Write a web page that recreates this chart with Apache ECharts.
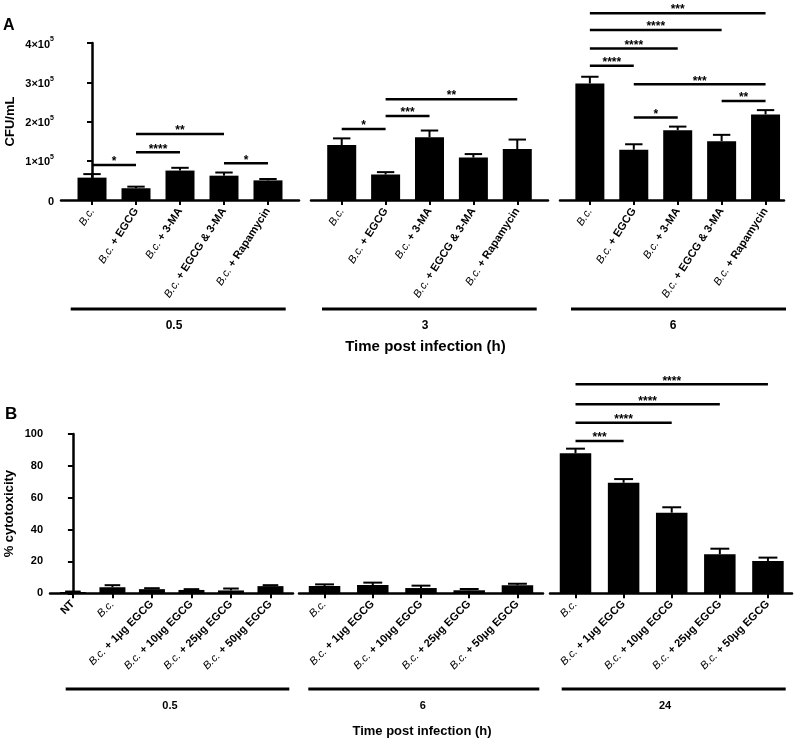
<!DOCTYPE html>
<html><head><meta charset="utf-8">
<script src="https://cdn.jsdelivr.net/npm/echarts@6/dist/echarts.min.js"></script>
<style>html,body{margin:0;padding:0;background:#fff}#c{width:800px;height:741px}</style>
</head><body><div id="c"></div>
<script>
// ---------- DATA ----------
const catsA = ['B.c.', 'B.c. + EGCG', 'B.c. + 3-MA', 'B.c. + EGCG & 3-MA', 'B.c. + Rapamycin'];
const timesA = ['0.5', '3', '6'];
const cfu05 = [57000, 30000, 75000, 62000, 50000];
const cfu05Err = [9000, 4000, 7000, 8000, 3500];
const cfu3 = [140000, 65000, 160000, 108000, 130000];
const cfu3Err = [17000, 6000, 17000, 9000, 24000];
const cfu6 = [297000, 128000, 178000, 150000, 218000];
const cfu6Err = [17000, 14000, 9000, 16000, 11000];
const yTicksA = [0, 100000, 200000, 300000, 400000];
// significance: [fromIndex, toIndex, bracketValue, stars]
const sigA05 = [[0, 1, 89000, '*'], [1, 2, 121500, '****'], [1, 3, 168000, '**'], [3, 4, 93500, '*']];
const sigA3 = [[0, 1, 181000, '*'], [1, 2, 214000, '***'], [1, 4, 257000, '**']];
const sigA6 = [[0, 4, 476000, '***'], [0, 3, 433000, '****'], [0, 2, 386000, '****'], [0, 1, 342000, '****'],
               [1, 4, 295000, '***'], [3, 4, 252000, '**'], [1, 2, 210000, '*']];

const catsB05 = ['NT', 'B.c.', 'B.c. + 1μg EGCG', 'B.c. + 10μg EGCG', 'B.c. + 25μg EGCG', 'B.c. + 50μg EGCG'];
const catsB = ['B.c.', 'B.c. + 1μg EGCG', 'B.c. + 10μg EGCG', 'B.c. + 25μg EGCG', 'B.c. + 50μg EGCG'];
const timesB = ['0.5', '6', '24'];
const cyto05 = [0.8, 3.8, 2.6, 2.1, 1.8, 4.5];
const cyto05Err = [0.3, 1.3, 0.6, 0.5, 1.2, 0.6];
const cyto6 = [4.6, 5.2, 3.3, 1.9, 5.0];
const cyto6Err = [1.0, 1.5, 1.5, 0.8, 1.0];
const cyto24 = [87.9, 69.4, 50.6, 24.5, 20.3];
const cyto24Err = [2.9, 2.3, 3.4, 3.5, 2.1];
const yTicksB = [0, 20, 40, 60, 80, 100];
const sigB24 = [[0, 4, 131.2, '****'], [0, 3, 118.6, '****'], [0, 2, 107.1, '****'], [0, 1, 95.6, '***']];

// ---------- LAYOUT ----------
const FONT = '"Liberation Sans", Arial, Helvetica, sans-serif';
const panelA = { top: 43, height: 157 };
const panelB = { top: 434, height: 159.3 };
const gridsA = [
  { left: 61, width: 238, min: -0.705, max: 4.705, bw: 29 },
  { left: 311, width: 237, min: -0.7, max: 4.7, bw: 29 },
  { left: 560, width: 224, min: -0.68, max: 4.42, bw: 29 }
];
const gridsB = [
  { left: 50, width: 243, min: -0.58, max: 5.57, bw: 26 },
  { left: 299, width: 244, min: -0.53, max: 4.53, bw: 31.5 },
  { left: 550, width: 242, min: -0.53, max: 4.5, bw: 31.5 }
];

const richLbl = {
  i: { fontStyle: 'italic', fontWeight: 'normal', fontSize: 11, fontFamily: FONT, color: '#000' },
  b: { fontWeight: 'bold', fontSize: 11, fontFamily: FONT, color: '#000' }
};
function catFmt(cats) {
  return function (v) {
    const name = cats[Math.round(v)];
    if (name === undefined) return '';
    if (name.indexOf('B.c.') === 0) return '{i|B.c.}{b|' + name.slice(4) + '}';
    return '{b|' + name + '}';
  };
}

const option = { animation: false, backgroundColor: '#fff', grid: [], xAxis: [], yAxis: [], series: [], graphic: [] };

function addGroup(g, panel, cats, vals, errs, sigs, yCfg, showY, rotate) {
  const gi = option.grid.length;
  option.grid.push({ left: g.left, top: panel.top, width: g.width, height: panel.height, containLabel: false });
  const idxs = cats.map((c, i) => i);
  option.xAxis.push({
    type: 'value', gridIndex: gi, min: g.min, max: g.max,
    splitLine: { show: false },
    axisLine: { show: true, onZero: false, lineStyle: { color: '#000', width: 2.5 } },
    axisTick: { show: true, customValues: idxs, length: 5, lineStyle: { color: '#000', width: 2 } },
    axisLabel: { show: true, customValues: idxs, rotate: rotate, margin: 9, formatter: catFmt(cats), rich: richLbl }
  });
  const y = Object.assign({
    type: 'value', gridIndex: gi, min: yCfg.ticks[0], max: yCfg.ticks[yCfg.ticks.length - 1],
    interval: yCfg.ticks[1] - yCfg.ticks[0],
    splitLine: { show: false }
  }, showY ? {
    show: true,
    name: yCfg.name, nameLocation: 'middle', nameGap: yCfg.nameGap, nameRotate: 90,
    nameTextStyle: { fontFamily: FONT, fontWeight: 'bold', fontSize: 13, color: '#000' },
    axisLine: { show: true, lineStyle: { color: '#000', width: 2.5 } },
    axisTick: { show: true, length: 5, lineStyle: { color: '#000', width: 2 } },
    axisLabel: { show: true, margin: 7, formatter: yCfg.fmt, rich: yCfg.rich,
      fontFamily: FONT, fontWeight: 'bold', fontSize: 11, color: '#000' }
  } : { show: false });
  option.yAxis.push(y);
  option.series.push({
    type: 'bar', xAxisIndex: gi, yAxisIndex: gi, barWidth: g.bw,
    itemStyle: { color: '#000' }, z: 2,
    data: vals.map((v, i) => [i, v])
  });
  const cap = g.bw * 0.3;
  option.series.push({
    type: 'custom', xAxisIndex: gi, yAxisIndex: gi, z: 3,
    data: vals.map((v, i) => [i, v, errs[i]]),
    encode: { x: 0, y: 1 },
    renderItem: function (params, api) {
      const x = api.value(0), v = api.value(1), e = api.value(2);
      const base = api.coord([x, v]);
      const top = api.coord([x, v + e]);
      return { type: 'group', children: [
        { type: 'line', shape: { x1: base[0], y1: base[1], x2: top[0], y2: top[1] }, style: { stroke: '#000', lineWidth: 2 } },
        { type: 'line', shape: { x1: top[0] - cap, y1: top[1], x2: top[0] + cap, y2: top[1] }, style: { stroke: '#000', lineWidth: 2 } }
      ] };
    }
  });
  if (sigs && sigs.length) {
    option.series.push({
      type: 'custom', xAxisIndex: gi, yAxisIndex: gi, z: 4, clip: false,
      data: sigs.map(s => [s[0], s[1], s[2]]),
      encode: { x: [0, 1], y: 2 },
      renderItem: function (params, api) {
        const p1 = api.coord([api.value(0), api.value(2)]);
        const p2 = api.coord([api.value(1), api.value(2)]);
        return { type: 'group', children: [
          { type: 'line', shape: { x1: p1[0], y1: p1[1], x2: p2[0], y2: p2[1] }, style: { stroke: '#000', lineWidth: 2.5 } },
          { type: 'text', x: (p1[0] + p2[0]) / 2, y: p1[1] + 3,
            style: { text: sigs[params.dataIndex][3], align: 'center', verticalAlign: 'bottom',
              font: 'bold 12px ' + FONT, fill: '#000' } }
        ] };
      }
    });
  }
}

const yA = {
  ticks: yTicksA, name: 'CFU/mL', nameGap: 44,
  fmt: v => v === 0 ? '{n|0}' : '{n|' + (v / 100000) + '×10}{s|5}',
  rich: { n: { fontFamily: FONT, fontWeight: 'bold', fontSize: 11, color: '#000', lineHeight: 14, verticalAlign: 'bottom' },
          s: { fontFamily: FONT, fontWeight: 'bold', fontSize: 7, color: '#000', lineHeight: 14, verticalAlign: 'top', padding: [0, 0, 4, 0] } }
};
const yB = { ticks: yTicksB, name: '% cytotoxicity', nameGap: 34, fmt: v => String(v), rich: {} };

addGroup(gridsA[0], panelA, catsA, cfu05, cfu05Err, sigA05, yA, true, 57);
addGroup(gridsA[1], panelA, catsA, cfu3, cfu3Err, sigA3, yA, false, 57);
addGroup(gridsA[2], panelA, catsA, cfu6, cfu6Err, sigA6, yA, false, 57);
addGroup(gridsB[0], panelB, catsB05, cyto05, cyto05Err, [], yB, true, 45);
addGroup(gridsB[1], panelB, catsB, cyto6, cyto6Err, [], yB, false, 45);
addGroup(gridsB[2], panelB, catsB, cyto24, cyto24Err, sigB24, yB, false, 45);

// group brackets and titles
function txt(x, y, t, size) {
  return { type: 'text', x: x, y: y, style: { text: t, font: 'bold ' + size + 'px ' + FONT, fill: '#000', align: 'center', verticalAlign: 'middle' } };
}
function bar(x1, x2, y) {
  return { type: 'line', shape: { x1: x1, y1: y, x2: x2, y2: y }, style: { stroke: '#000', lineWidth: 3 } };
}
const bracketA = [[70.7, 285.7, 174], [322, 536.7, 425], [571, 786, 673]];
const bracketB = [[65.7, 289.3, 170], [308.3, 539.3, 422.7], [561.7, 785.7, 665]];
bracketA.forEach((b, i) => { option.graphic.push(bar(b[0], b[1], 309)); option.graphic.push(txt(b[2], 326, timesA[i], 12)); });
bracketB.forEach((b, i) => { option.graphic.push(bar(b[0], b[1], 689)); option.graphic.push(txt(b[2], 706, timesB[i], 11)); });
option.graphic.push(txt(425.5, 347, 'Time post infection (h)', 15));
option.graphic.push(txt(422, 731, 'Time post infection (h)', 13));
option.graphic.push({ type: 'text', x: 3, y: 26, style: { text: 'A', font: 'bold 16px ' + FONT, fill: '#000', verticalAlign: 'middle' } });
option.graphic.push({ type: 'text', x: 5, y: 414, style: { text: 'B', font: 'bold 17px ' + FONT, fill: '#000', verticalAlign: 'middle' } });

const chart = echarts.init(document.getElementById('c'), null, { renderer: 'canvas' });
chart.setOption(option);
</script>
</body></html>
